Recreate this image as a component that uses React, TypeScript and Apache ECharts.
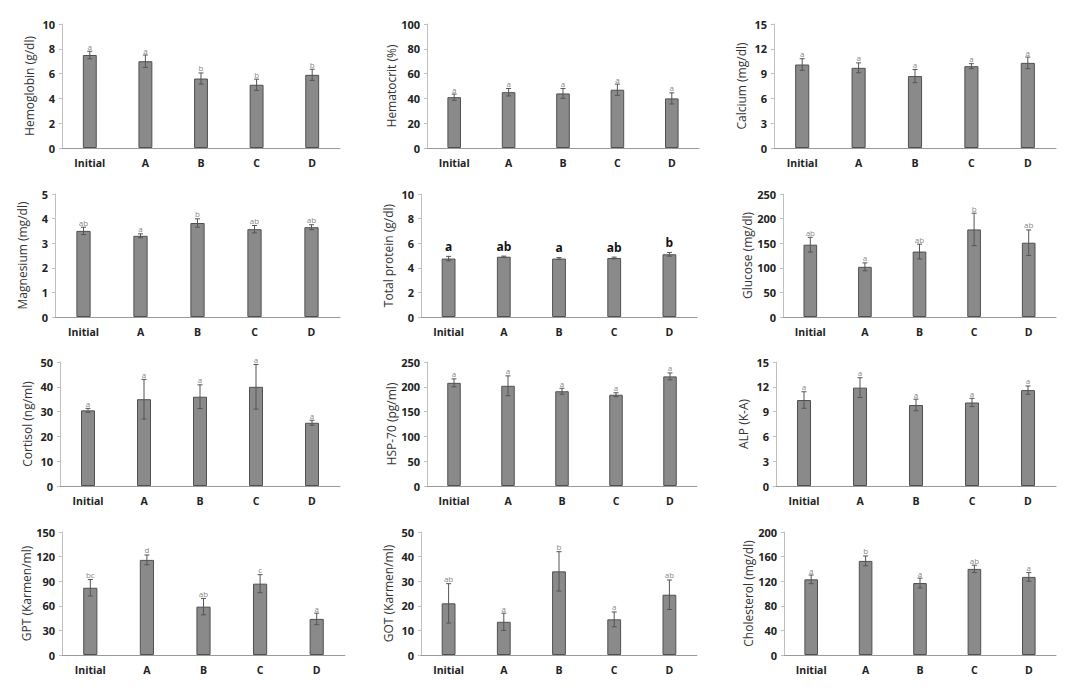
import React, { useEffect, useRef } from "react";
import * as echarts from "echarts";

const categories = ["Initial", "A", "B", "C", "D"];

const hemoglobinMean = [7.5, 7.0, 5.6, 5.1, 5.9];
const hemoglobinErr = [0.3, 0.5, 0.45, 0.45, 0.45];
const hemoglobinLetters = ["a", "a", "b", "b", "b"];

const hematocritMean = [41, 45, 44, 47, 40];
const hematocritErr = [2.5, 3, 4, 4.5, 4.5];
const hematocritLetters = ["a", "a", "a", "a", "a"];

const calciumMean = [10.1, 9.7, 8.7, 9.9, 10.3];
const calciumErr = [0.7, 0.6, 0.8, 0.3, 0.7];
const calciumLetters = ["a", "a", "a", "a", "a"];

const magnesiumMean = [3.5, 3.3, 3.82, 3.57, 3.65];
const magnesiumErr = [0.15, 0.08, 0.17, 0.15, 0.1];
const magnesiumLetters = ["ab", "a", "b", "ab", "ab"];

const proteinMean = [4.75, 4.9, 4.75, 4.8, 5.1];
const proteinErr = [0.18, 0.05, 0.08, 0.07, 0.15];
const proteinLetters = ["a", "ab", "a", "ab", "b"];

const glucoseMean = [147, 102, 133, 178, 151];
const glucoseErr = [15, 8, 15, 33, 26];
const glucoseLetters = ["ab", "a", "ab", "b", "ab"];

const cortisolMean = [30.5, 35, 36, 40, 25.5];
const cortisolErr = [0.8, 8, 4.8, 9, 1];
const cortisolLetters = ["a", "a", "a", "a", "a"];

const hspMean = [208, 202, 191, 184, 221];
const hspErr = [8, 20, 6, 4, 7];
const hspLetters = ["a", "a", "a", "a", "a"];

const alpMean = [10.4, 11.9, 9.8, 10.1, 11.6];
const alpErr = [1.0, 1.2, 0.7, 0.5, 0.5];
const alpLetters = ["a", "a", "a", "a", "a"];

const gptMean = [82, 116, 59, 87, 44];
const gptErr = [10, 6, 10, 11, 7];
const gptLetters = ["bc", "d", "ab", "c", "a"];

const gotMean = [21, 13.5, 34, 14.5, 24.5];
const gotErr = [8, 3.5, 8, 3, 6];
const gotLetters = ["ab", "a", "b", "a", "ab"];

const cholMean = [123, 153, 117, 140, 127];
const cholErr = [7, 8, 8, 6, 7];
const cholLetters = ["a", "b", "a", "ab", "a"];

const panels = [
  { name: "Hemoglobin (g/dl)", mean: hemoglobinMean, err: hemoglobinErr, letters: hemoglobinLetters, max: 10, interval: 2 },
  { name: "Hematocrit (%)", mean: hematocritMean, err: hematocritErr, letters: hematocritLetters, max: 100, interval: 20 },
  { name: "Calcium (mg/dl)", mean: calciumMean, err: calciumErr, letters: calciumLetters, max: 15, interval: 3 },
  { name: "Magnesium (mg/dl)", mean: magnesiumMean, err: magnesiumErr, letters: magnesiumLetters, max: 5, interval: 1 },
  { name: "Total protein (g/dl)", mean: proteinMean, err: proteinErr, letters: proteinLetters, max: 10, interval: 2, bigLetters: true },
  { name: "Glucose (mg/dl)", mean: glucoseMean, err: glucoseErr, letters: glucoseLetters, max: 250, interval: 50 },
  { name: "Cortisol (ng/ml)", mean: cortisolMean, err: cortisolErr, letters: cortisolLetters, max: 50, interval: 10 },
  { name: "HSP-70 (pg/ml)", mean: hspMean, err: hspErr, letters: hspLetters, max: 250, interval: 50 },
  { name: "ALP (K-A)", mean: alpMean, err: alpErr, letters: alpLetters, max: 15, interval: 3 },
  { name: "GPT (Karmen/ml)", mean: gptMean, err: gptErr, letters: gptLetters, max: 150, interval: 30 },
  { name: "GOT (Karmen/ml)", mean: gotMean, err: gotErr, letters: gotLetters, max: 50, interval: 10 },
  { name: "Cholesterol (mg/dl)", mean: cholMean, err: cholErr, letters: cholLetters, max: 200, interval: 40 },
];

// layout: left, top, width, height
const layout = [
  [62, 24, 278, 124],
  [427, 24, 272, 124],
  [774, 24, 282, 124],
  [55, 194, 285, 123],
  [421, 194, 276, 123],
  [783, 194, 273, 123],
  [60, 362, 280, 124],
  [427, 362, 270, 124],
  [776, 362, 280, 124],
  [62, 532, 283, 123],
  [421, 532, 276, 123],
  [784, 532, 272, 123],
];

const FONT = "Open Sans";

export default function App() {
  const ref = useRef<HTMLDivElement>(null);
  useEffect(() => {
    if (!ref.current) return;
    const chart = echarts.init(ref.current, null, { renderer: "svg" });
    const grid: any[] = [];
    const xAxis: any[] = [];
    const yAxis: any[] = [];
    const series: any[] = [];
    panels.forEach((p, k) => {
      const [l, t, w, h] = layout[k];
      grid.push({ left: l, top: t, width: w, height: h, containLabel: false });
      xAxis.push({
        type: "category",
        gridIndex: k,
        data: categories,
        axisTick: { show: false },
        axisLine: { lineStyle: { color: "#9a9a9a", width: 1 } },
        axisLabel: { fontFamily: FONT, fontWeight: "bold", fontSize: 10.5, color: "#222", margin: 9 },
      });
      yAxis.push({
        type: "value",
        gridIndex: k,
        min: 0,
        max: p.max,
        interval: p.interval,
        name: p.name,
        nameLocation: "middle",
        nameGap: 27,
        nameRotate: 90,
        nameTextStyle: { fontFamily: FONT, fontSize: 12, color: "#333" },
        axisLine: { show: true, lineStyle: { color: "#c0c0c0", width: 1 } },
        axisTick: { show: true, length: 3, lineStyle: { color: "#c0c0c0" } },
        axisLabel: { fontFamily: FONT, fontWeight: "bold", fontSize: 11, color: "#222", margin: 7 },
        splitLine: { show: false },
      });
      series.push({
        type: "bar",
        xAxisIndex: k,
        yAxisIndex: k,
        data: p.mean,
        barWidth: "25%",
        itemStyle: { color: "#8a8a8a", borderColor: "#505050", borderWidth: 1 },
      });
      const letters = p.letters;
      const big = !!(p as any).bigLetters;
      series.push({
        type: "custom",
        xAxisIndex: k,
        yAxisIndex: k,
        z: 5,
        data: p.mean.map((m, i) => [i, m, p.err[i]]),
        renderItem: (params: any, api: any) => {
          const i = api.value(0);
          const m = api.value(1);
          const e = api.value(2);
          const top = api.coord([i, m + e]);
          const bot = api.coord([i, m - e]);
          const x = top[0];
          const cap = 2.5;
          const st = { stroke: "#555", lineWidth: 1 };
          return {
            type: "group",
            children: [
              { type: "line", shape: { x1: x, y1: top[1], x2: x, y2: bot[1] }, style: st },
              { type: "line", shape: { x1: x - cap, y1: top[1], x2: x + cap, y2: top[1] }, style: st },
              { type: "line", shape: { x1: x - cap, y1: bot[1], x2: x + cap, y2: bot[1] }, style: st },
              {
                type: "text",
                x: x,
                y: top[1] - (big ? 4 : 1),
                style: {
                  text: letters[params.dataIndex],
                  fontFamily: FONT,
                  fontSize: big ? 12 : 8,
                  fontWeight: big ? "bold" : "normal",
                  fill: big ? "#111" : "#888",
                  align: "center",
                  verticalAlign: "bottom",
                },
              },
            ],
          };
        },
      });
    });
    chart.setOption({
      animation: false,
      backgroundColor: "#fff",
      grid,
      xAxis,
      yAxis,
      series,
    });
    return () => chart.dispose();
  }, []);
  return (
    <div
      ref={ref}
      style={{ position: "absolute", left: 0, top: 0, width: 1086, height: 693 }}
    />
  );
}
